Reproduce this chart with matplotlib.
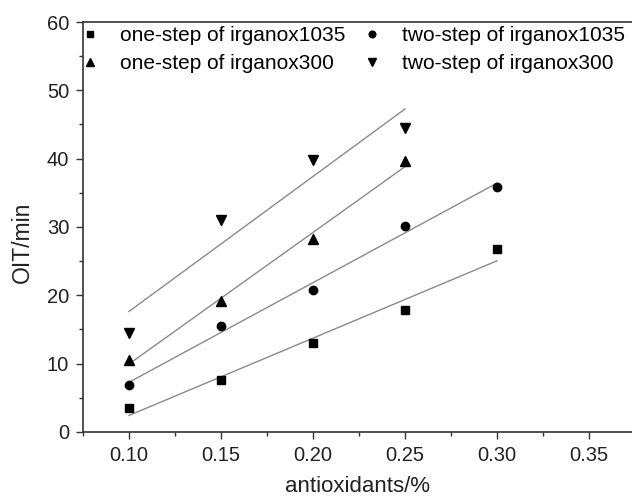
"""OIT versus antioxidant content, one-step and two-step addition."""

import matplotlib

matplotlib.use("Agg")
import matplotlib.pyplot as plt
import numpy as np
from matplotlib.ticker import MultipleLocator

plt.rcParams["font.family"] = ["Liberation Sans", "DejaVu Sans"]

# Data
x_1035 = [0.10, 0.15, 0.20, 0.25, 0.30]
x_300 = [0.10, 0.15, 0.20, 0.25]
one_step_1035 = [3.5, 7.6, 13.0, 17.8, 26.7]
two_step_1035 = [6.8, 15.5, 20.8, 30.2, 35.9]
one_step_300 = [10.5, 19.2, 28.2, 39.6]
two_step_300 = [14.5, 31.0, 39.8, 44.5]
x_ticks = [0.10, 0.15, 0.20, 0.25, 0.30, 0.35]
x_ticklabels = ["0.10", "0.15", "0.20", "0.25", "0.30", "0.35"]

series = [
    ("one-step of irganox1035", x_1035, one_step_1035, "s"),
    ("two-step of irganox1035", x_1035, two_step_1035, "o"),
    ("one-step of irganox300", x_300, one_step_300, "^"),
    ("two-step of irganox300", x_300, two_step_300, "v"),
]

fig = plt.figure(figsize=(6.32, 5.01), dpi=100)
ax = fig.add_axes([0.1313, 0.138, 0.8687, 0.818])

handles = {}
for label, xs, ys, marker in series:
    xs = np.asarray(xs)
    ms = 6.0 if marker in ("s", "o") else 6.8
    h, = ax.plot(xs, ys, linestyle="none", marker=marker, color="black",
                 markersize=ms, label=label, zorder=3)
    handles[label] = h
    # Linear fit line across the data range
    k, b = np.polyfit(xs, ys, 1)
    ax.plot(xs[[0, -1]], k * xs[[0, -1]] + b, color="#8a8a8a", linewidth=1.0)

order = ["one-step of irganox1035", "one-step of irganox300",
         "two-step of irganox1035", "two-step of irganox300"]
ax.legend([handles[o] for o in order], order, ncol=2, frameon=False,
          loc="upper left", bbox_to_anchor=(-0.006, 0.99), fontsize=15,
          borderpad=0, borderaxespad=0, markerscale=0.8,
          handlelength=1.0, handletextpad=0.94, columnspacing=0.75,
          labelspacing=0.44)

ax.set_xlim(0.075, 0.3734)
ax.set_ylim(0, 60)
ax.xaxis.set_minor_locator(MultipleLocator(0.025))
ax.yaxis.set_major_locator(MultipleLocator(10))
ax.yaxis.set_minor_locator(MultipleLocator(5))
ax.set_xticks(x_ticks)
ax.set_xticklabels(x_ticklabels)
ax.tick_params(which="major", direction="out", length=5, width=1,
               labelsize=14.5, colors="#333333", labelcolor="#222222", pad=5)
ax.tick_params(which="minor", direction="out", length=3, width=1,
               colors="#333333")
ax.spines["right"].set_visible(False)
for s in ("left", "bottom", "top"):
    ax.spines[s].set_linewidth(1.2)
    ax.spines[s].set_color("#333333")

ax.set_xlabel("antioxidants/%", fontsize=16, color="#222222")
ax.set_ylabel("OIT/min", fontsize=16.5, color="#222222")
ax.xaxis.set_label_coords(0.5, -0.108)
ax.yaxis.set_label_coords(-0.089, 0.463)

fig.savefig("out.png", dpi=100)
plt.close(fig)
